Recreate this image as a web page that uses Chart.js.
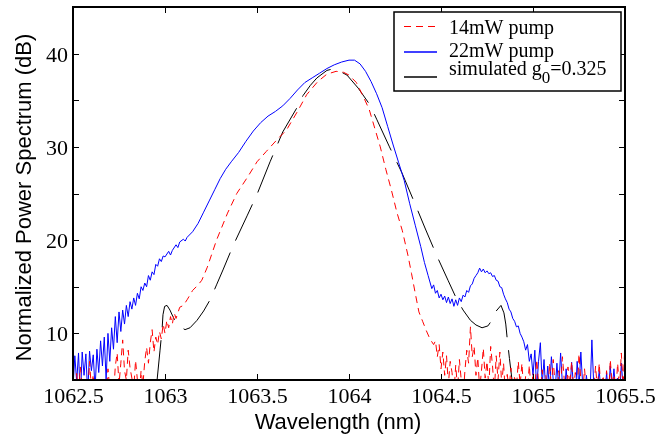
<!DOCTYPE html>
<html>
<head>
<meta charset="utf-8">
<script src="https://cdn.jsdelivr.net/npm/chart.js@4.4.1/dist/chart.umd.min.js"></script>
<style>
  html, body { margin: 0; padding: 0; background: #fff; overflow: hidden; }
  canvas { display: block; }
</style>
</head>
<body>
<canvas id="myChart" width="658" height="439"></canvas>
<script>
// axis ticks
const xTickVals = [1062.5, 1063, 1063.5, 1064, 1064.5, 1065, 1065.5];
const xTickLabels = ['1062.5', '1063', '1063.5', '1064', '1064.5', '1065', '1065.5'];
const yTickVals = [5, 10, 15, 20, 25, 30, 35, 40, 45];
const yTickLabels = ['', '10', '', '20', '', '30', '', '40', ''];

const xTitle = 'Wavelength (nm)';
const yTitle = 'Normalized Power Spectrum (dB)';
const legendLabels = ['14mW pump', '22mW pump', 'simulated g'];
const seriesColors = ['rgb(255, 0, 0)', 'rgb(0, 0, 255)', 'rgb(0, 0, 0)'];

// spectrometer sampling step for the noisy parts
const noiseStep = 0.01;

// 22mW pump (blue)
const blueLeftStart = 1062.50;
const blueLeftDb = [4.2, 7.6, 4.8, 7.9, 3.0, 8.0, 5.5, 7.8, 3.5, 8.1,
  6.0, 7.7, 4.0, 8.3, 5.8, 9.2, 6.5, 9.6, 5.0, 10.0,
  7.0, 10.6, 8.3, 11.8, 9.0, 12.3, 10.2, 12.5, 11.0, 13.0,
  11.8, 13.4, 12.6, 13.8, 13.0, 14.3, 13.7, 15.0, 14.6, 15.4,
  15.0, 16.2, 15.7, 16.6, 16.3, 17.4, 17.2, 18.0, 17.7, 18.3];
const blueWl = [1063.00, 1063.02, 1063.03, 1063.04, 1063.06, 1063.07, 1063.08, 1063.10, 1063.11, 1063.12,
  1063.15, 1063.18, 1063.21, 1063.24, 1063.27, 1063.30, 1063.33, 1063.36, 1063.40, 1063.44,
  1063.48, 1063.52, 1063.56, 1063.60, 1063.64, 1063.68, 1063.72, 1063.76, 1063.80, 1063.84,
  1063.88, 1063.92, 1063.96, 1064.00, 1064.03, 1064.06, 1064.09, 1064.12, 1064.15, 1064.18,
  1064.21, 1064.24, 1064.27, 1064.30, 1064.33, 1064.36, 1064.39, 1064.41, 1064.43, 1064.45,
  1064.46, 1064.47, 1064.48, 1064.49, 1064.50, 1064.51, 1064.52, 1064.53, 1064.54, 1064.55,
  1064.56, 1064.57, 1064.58, 1064.59, 1064.60, 1064.61, 1064.62, 1064.63, 1064.64, 1064.65,
  1064.66, 1064.67, 1064.68, 1064.69, 1064.70, 1064.71, 1064.72, 1064.73, 1064.74, 1064.75,
  1064.76, 1064.77, 1064.78, 1064.79, 1064.80, 1064.81, 1064.82, 1064.83, 1064.84, 1064.85,
  1064.86, 1064.87, 1064.88, 1064.89, 1064.90, 1064.91, 1064.92, 1064.93, 1064.94, 1064.95,
  1064.96, 1064.97, 1064.98, 1064.99];
const blueDb = [18.2, 18.8, 18.4, 18.9, 19.5, 19.2, 19.8, 20.1, 19.9, 20.3,
  20.9, 21.8, 23.0, 24.2, 25.4, 26.6, 27.6, 28.4, 29.4, 30.6,
  31.7, 32.6, 33.3, 33.8, 34.4, 35.2, 36.1, 36.9, 37.4, 37.9,
  38.4, 38.8, 39.1, 39.3, 39.3, 38.9, 38.1, 37.0, 35.7, 34.2,
  32.2, 30.2, 28.3, 26.4, 23.9, 21.6, 19.3, 17.6, 16.2, 14.8,
  15.2, 14.3, 14.6, 13.8, 14.2, 13.6, 14.0, 13.3, 13.9, 13.2,
  13.7, 12.9, 13.6, 13.0, 13.8, 13.4, 14.1, 13.9, 14.6, 14.4,
  15.1, 15.3, 15.9, 16.2, 16.5, 17.0, 16.6, 16.9, 16.5, 16.7,
  16.4, 16.5, 16.1, 16.2, 15.7, 15.6, 15.0, 14.9, 14.2, 13.7,
  13.3, 12.6, 12.3, 11.6, 11.3, 10.7, 10.8, 10.0, 9.6, 9.1,
  8.2, 8.8, 7.0, 7.8];
const blueRightStart = 1065.00;
const blueRightDb = [5.5, 8.2, 4.0, 7.0, 9.0, 4.5, 7.2, 3.5, 6.5, 4.0,
  7.5, 5.0, 3.8, 6.8, 4.2, 7.9, 4.5, 3.0, 6.2, 4.0,
  3.5, 6.9, 4.4, 3.0, 7.0, 4.0, 8.0, 4.5, 3.0, 5.5,
  4.0, 3.5, 9.3, 4.5, 3.0, 4.2, 6.0, 3.5, 4.0, 3.2,
  5.8, 3.5, 6.5, 4.0, 6.2, 3.6, 5.2, 3.0, 6.8, 4.2, 3.5];

// 14mW pump (red, dashed)
const redLeftStart = 1062.50;
const redLeftDb = [3.0, 4.5, 5.7, 3.5, 6.4, 4.0, 2.5, 4.8, 3.2, 7.0,
  4.0, 5.6, 3.0, 4.2, 2.8, 5.3, 3.6, 4.4, 3.0, 6.2,
  4.0, 5.0, 3.2, 6.5, 7.9, 4.5, 6.8, 9.3, 6.0, 5.0,
  8.2, 6.3, 5.2, 4.0, 7.1, 5.0, 3.5, 6.0, 4.5, 7.0,
  8.5, 6.8, 9.0, 10.4, 8.0, 9.6, 8.8, 10.2, 9.4, 11.0];
const redWl = [1063.00, 1063.01, 1063.02, 1063.03, 1063.04, 1063.05, 1063.06, 1063.08, 1063.10, 1063.12,
  1063.15, 1063.18, 1063.20, 1063.23, 1063.28, 1063.34, 1063.39, 1063.45, 1063.50, 1063.55,
  1063.61, 1063.66, 1063.72, 1063.77, 1063.83, 1063.88, 1063.93, 1063.97, 1064.00, 1064.04,
  1064.08, 1064.11, 1064.14, 1064.17, 1064.20, 1064.23, 1064.26, 1064.29, 1064.32, 1064.34,
  1064.36, 1064.38, 1064.40, 1064.42, 1064.44, 1064.46];
const redDb = [10.0, 11.4, 10.6, 11.8, 11.0, 12.2, 11.6, 12.8, 13.0, 13.6,
  14.6, 15.2, 15.7, 17.1, 20.0, 22.9, 25.0, 26.8, 28.4, 29.5,
  30.8, 31.8, 33.8, 35.6, 37.0, 37.8, 38.1, 38.0, 37.7, 36.9,
  35.3, 34.0, 32.0, 30.0, 27.6, 25.4, 23.0, 21.0, 18.4, 16.4,
  14.3, 12.3, 11.3, 10.3, 9.4, 8.8];
const redRightStart = 1064.47;
const redRightDb = [9.2, 7.5, 8.8, 6.2, 8.0, 5.5, 7.6, 4.5, 7.0, 5.8,
  3.5, 6.6, 4.0, 7.2, 5.0, 3.0, 6.0, 8.2, 6.8, 10.7,
  7.5, 8.6, 5.5, 7.4, 4.0, 6.0, 8.4, 5.2, 7.0, 4.2,
  8.6, 6.5, 3.8, 7.6, 5.0, 8.0, 4.5, 6.8, 3.5, 5.6,
  4.0, 6.3, 3.0, 5.5, 4.2, 7.0, 4.5, 6.8, 3.6, 5.4,
  4.0, 6.6, 3.5, 5.8, 4.0, 7.2, 4.8, 3.2, 6.1, 4.0,
  5.5, 3.0, 6.8, 4.2, 7.2, 4.5, 3.5, 6.0, 4.0, 7.5,
  5.0, 3.2, 6.4, 4.5, 7.0, 4.0, 5.8, 3.4, 7.8, 5.0,
  3.6, 6.2, 4.0, 5.3, 3.0, 4.6, 3.8, 6.5, 4.0, 6.8,
  3.5, 5.5, 4.2, 6.0, 3.0, 7.2, 4.5, 5.6, 3.6, 6.8,
  4.0, 7.9, 4.4, 9.0];

// simulated g0 = 0.325 (black)
const simWl = [1062.957, 1062.973, 1062.984, 1062.989, 1062.998, 1063.011, 1063.027, 1063.043, 1063.062, 1063.082,
  1063.109, 1063.136, 1063.174, 1063.21, 1063.245, 1063.28, 1063.315, 1063.37, 1063.446, 1063.50,
  1063.571, 1063.64, 1063.717, 1063.75, 1063.79, 1063.826, 1063.88, 1063.92, 1063.95, 1063.989,
  1064.05, 1064.114, 1064.152, 1064.22, 1064.288, 1064.35, 1064.413, 1064.48, 1064.538, 1064.58,
  1064.62, 1064.66, 1064.69, 1064.723, 1064.755, 1064.78, 1064.80, 1064.826, 1064.842, 1064.852,
  1064.859, 1064.872, 1064.886];
const simDb = [5.0, 8.2, 10.4, 12.0, 12.9, 13.0, 12.5, 11.8, 11.1, 10.7,
  10.4, 10.6, 11.4, 12.4, 13.6, 15.2, 16.8, 19.4, 22.6, 24.9,
  28.4, 31.6, 34.2, 35.5, 36.6, 37.4, 38.2, 38.4, 38.1, 37.7,
  36.3, 34.5, 32.9, 30.0, 27.2, 24.3, 21.3, 18.2, 15.7, 13.9,
  12.5, 11.4, 10.9, 10.6, 10.8, 11.5, 12.4, 13.0, 12.2, 11.0,
  9.6, 7.3, 5.0];

const sampled = (start, values) => values.map((y, i) => ({ x: start + i * noiseStep, y }));
const paired = (wl, db) => wl.map((x, i) => ({ x, y: db[i] }));

const bluePoints = [...sampled(blueLeftStart, blueLeftDb), ...paired(blueWl, blueDb), ...sampled(blueRightStart, blueRightDb)];
const redPoints = [...sampled(redLeftStart, redLeftDb), ...paired(redWl, redDb), ...sampled(redRightStart, redRightDb)];
const simPoints = paired(simWl, simDb);

const serif = '"Liberation Serif", "Times New Roman", serif';
const sans = '"Liberation Sans", Arial, sans-serif';
const redDash = [7, 5];

// frame, inward ticks, tick labels, legend and axis titles drawn like the matlab figure
const decorations = {
  id: 'decorations',
  afterDraw(chart) {
    const { ctx, chartArea: a, scales } = chart;
    ctx.save();
    ctx.setLineDash([]);
    ctx.strokeStyle = '#000';
    ctx.fillStyle = '#000';
    ctx.lineWidth = 1;
    ctx.font = '22px ' + serif;
    ctx.textBaseline = 'alphabetic';
    ctx.beginPath();
    xTickVals.forEach((v, i) => {
      const px = Math.round(scales.x.getPixelForValue(v)) + 0.5;
      ctx.moveTo(px, a.bottom); ctx.lineTo(px, a.bottom - 6);
      ctx.moveTo(px, a.top); ctx.lineTo(px, a.top + 6);
      ctx.textAlign = 'center';
      ctx.fillText(xTickLabels[i], px, a.bottom + 23);
    });
    yTickVals.forEach((v, i) => {
      const py = Math.round(scales.y.getPixelForValue(v)) + 0.5;
      ctx.moveTo(a.left, py); ctx.lineTo(a.left + 6, py);
      ctx.moveTo(a.right, py); ctx.lineTo(a.right - 6, py);
      ctx.textAlign = 'right';
      ctx.fillText(yTickLabels[i], a.left - 5, py + 7.5);
    });
    ctx.stroke();
    ctx.lineWidth = 2;
    ctx.strokeRect(a.left, a.top, a.right - a.left, a.bottom - a.top);

    // legend box
    const lx = a.right - 231, ly = a.top + 5, lw = 227, lh = 79;
    ctx.fillStyle = '#fff';
    ctx.fillRect(lx, ly, lw, lh);
    ctx.lineWidth = 1.5;
    ctx.strokeRect(lx, ly, lw, lh);
    ctx.restore();

    // legend samples, each stroked on its own
    const lineY = [ly + 14.5, ly + 40, ly + 65];
    const textY = [ly + 22, ly + 44.5, ly + 62.5];
    seriesColors.forEach((color, i) => {
      ctx.save();
      ctx.beginPath();
      ctx.setLineDash(i === 0 ? redDash : []);
      ctx.lineWidth = i === 0 ? 1 : 1.5;
      ctx.strokeStyle = color;
      ctx.moveTo(lx + 10, lineY[i]);
      ctx.lineTo(lx + 43, lineY[i]);
      ctx.stroke();
      ctx.restore();
    });

    ctx.save();
    ctx.fillStyle = '#000';
    ctx.textBaseline = 'alphabetic';
    ctx.textAlign = 'left';
    legendLabels.forEach((label, i) => {
      ctx.font = '20px ' + serif;
      ctx.fillText(label, lx + 55, textY[i]);
      if (i === 2) {
        let tx = lx + 55 + ctx.measureText(label).width;
        ctx.font = '17px ' + serif;
        ctx.fillText('0', tx, textY[i] + 8);
        tx += ctx.measureText('0').width;
        ctx.font = '20px ' + serif;
        ctx.fillText('=0.325', tx, textY[i]);
      }
    });

    // axis titles
    ctx.font = '22px ' + sans;
    ctx.textAlign = 'center';
    ctx.fillText(xTitle, (a.left + a.right) / 2 - 11, 429);
    ctx.translate(31, (a.top + a.bottom) / 2 + 4);
    ctx.rotate(-Math.PI / 2);
    ctx.fillText(yTitle, 0, 0);
    ctx.restore();
  }
};

function drawChart() {
  new Chart(document.getElementById('myChart').getContext('2d'), {
    type: 'line',
    data: {
      datasets: [
        { label: legendLabels[0], data: redPoints, borderColor: seriesColors[0], borderWidth: 1, borderDash: redDash, pointRadius: 0, tension: 0 },
        { label: legendLabels[1], data: bluePoints, borderColor: seriesColors[1], borderWidth: 1, pointRadius: 0, tension: 0 },
        { label: legendLabels[2], data: simPoints, borderColor: seriesColors[2], borderWidth: 1, borderDash: [40, 13], pointRadius: 0, tension: 0 }
      ]
    },
    options: {
      responsive: false,
      animation: false,
      events: [],
      layout: { padding: { top: 7, right: 33, left: 0, bottom: 0 } },
      plugins: { legend: { display: false }, tooltip: { enabled: false } },
      scales: {
        x: {
          type: 'linear',
          min: 1062.5,
          max: 1065.5,
          afterBuildTicks: s => { s.ticks = xTickVals.map(v => ({ value: v })); },
          afterFit: s => { s.height = 59; },
          grid: { display: false, drawTicks: false },
          border: { display: false },
          ticks: { display: false }
        },
        y: {
          type: 'linear',
          min: 5,
          max: 45,
          afterBuildTicks: s => { s.ticks = yTickVals.map(v => ({ value: v })); },
          afterFit: s => { s.width = 73; },
          grid: { display: false, drawTicks: false },
          border: { display: false },
          ticks: { display: false }
        }
      }
    },
    plugins: [decorations]
  });
}

// make sure the local fonts are ready before the first (and only) draw
Promise.all([
  document.fonts.load('22px "Liberation Serif"'),
  document.fonts.load('22px "Liberation Sans"')
]).then(drawChart, drawChart);
</script>
</body>
</html>
